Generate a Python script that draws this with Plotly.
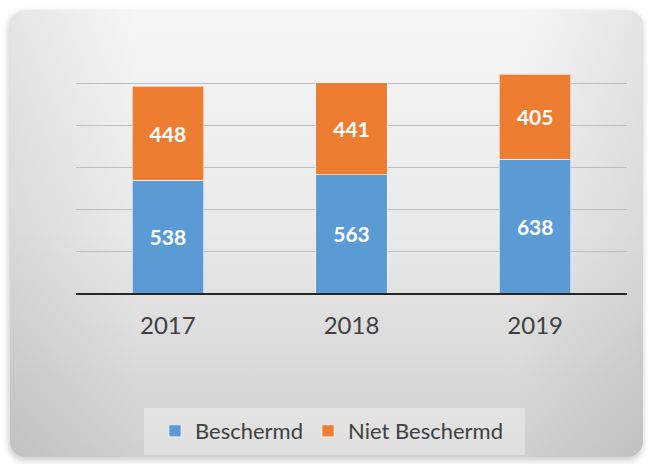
import base64
import plotly.graph_objects as go

# data
years = ["2017", "2018", "2019"]
beschermd = [538, 563, 638]
niet_beschermd = [448, 441, 405]

W, H = 652, 464
M_L, M_R, M_T, M_B = 76, 25, 41, 171
PW = W - M_L - M_R
PH = H - M_T - M_B


def px_x(x):
    return (x - M_L) / PW


def px_y(y):
    return 1 - (y - M_T) / PH


# gradient panel behind the chart (rounded card with a soft shadow)
svg = f"""<svg xmlns='http://www.w3.org/2000/svg' width='{W}' height='{H}' viewBox='0 0 {W} {H}'>
<defs>
<linearGradient id='v' x1='0' y1='0' x2='0' y2='1'>
<stop offset='0' stop-color='#f6f6f6'/><stop offset='0.5' stop-color='#e9e9e9'/><stop offset='1' stop-color='#cfcfcf'/>
</linearGradient>
<linearGradient id='h' x1='0' y1='0' x2='1' y2='0'>
<stop offset='0' stop-color='#000' stop-opacity='0.07'/><stop offset='0.2' stop-color='#000' stop-opacity='0'/>
<stop offset='0.8' stop-color='#000' stop-opacity='0'/><stop offset='1' stop-color='#000' stop-opacity='0.07'/>
</linearGradient>
<filter id='s' x='-5%' y='-5%' width='110%' height='110%'><feGaussianBlur stdDeviation='3'/></filter>
</defs>
<rect x='8' y='12' width='635' height='449' rx='16' fill='#000' opacity='0.18' filter='url(#s)'/>
<rect x='10' y='10' width='633' height='447' rx='16' fill='url(#v)'/>
<rect x='10' y='10' width='633' height='447' rx='16' fill='url(#h)'/>
</svg>"""
panel_src = "data:image/svg+xml;base64," + base64.b64encode(svg.encode()).decode()

fig = go.Figure()

fig.add_trace(go.Bar(
    x=years, y=beschermd, name="Beschermd",
    marker=dict(color="#5b9bd5", line=dict(color="rgba(255,255,255,0.6)", width=1)),
    width=0.39, text=beschermd, textposition="inside", insidetextanchor="middle",
    textfont=dict(family="Lato", size=21, color="white", weight="bold"),
))
fig.add_trace(go.Bar(
    x=years, y=niet_beschermd, name="Niet Beschermd",
    marker=dict(color="#ed7d31", line=dict(color="rgba(255,255,255,0.6)", width=1)),
    width=0.39, text=niet_beschermd, textposition="inside", insidetextanchor="middle",
    textfont=dict(family="Lato", size=21, color="white", weight="bold"),
))

fig.update_layout(
    width=W, height=H,
    margin=dict(l=M_L, r=M_R, t=M_T, b=M_B, pad=0),
    barmode="stack",
    paper_bgcolor="white",
    plot_bgcolor="rgba(0,0,0,0)",
    font=dict(family="Lato", color="#404040"),
    showlegend=True,
    legend=dict(
        orientation="h",
        x=px_x(155), xanchor="left",
        y=px_y(431), yanchor="middle",
        bgcolor="rgba(0,0,0,0)",
        font=dict(size=22, color="#404040"),
        traceorder="normal",
    ),
    images=[dict(
        source=panel_src, xref="paper", yref="paper",
        x=px_x(0), y=px_y(0), sizex=W / PW, sizey=H / PH,
        xanchor="left", yanchor="top", sizing="stretch", layer="below",
    )],
    shapes=[dict(
        type="rect", xref="paper", yref="paper",
        x0=px_x(144), x1=px_x(525), y0=px_y(455), y1=px_y(408),
        fillcolor="rgba(255,255,255,0.35)", line=dict(width=0), layer="below",
    )],
)

fig.update_xaxes(
    range=[-0.5, 2.5],
    showline=True, linecolor="#262626", linewidth=2,
    showgrid=False, ticks="",
    tickfont=dict(size=24, color="#404040"),
    ticklabelstandoff=10,
)
fig.update_yaxes(
    range=[0, 1202], dtick=200,
    showgrid=True, gridcolor="#bdbdbd", gridwidth=1,
    zeroline=False, showticklabels=False,
)

# drop the default page margin so the figure sits at the window origin
fig.write_html("out.html", config={"displayModeBar": False},
               post_script="document.body.style.margin='0';")
